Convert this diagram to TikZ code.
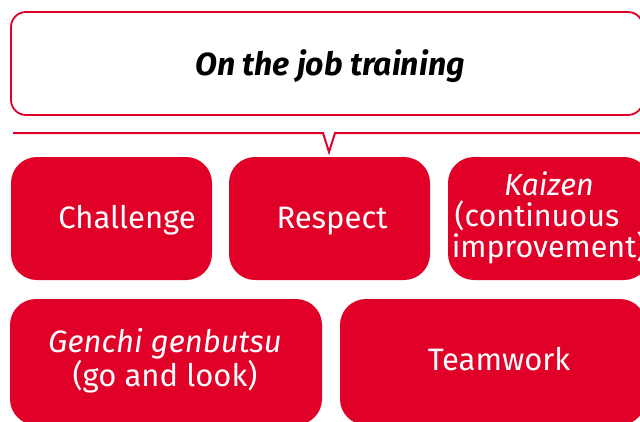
\documentclass[tikz,border=0pt]{standalone}
\usepackage{fontspec}
\setmainfont{Fira Sans}
\definecolor{tred}{RGB}{224,0,40}
\tikzset{
  redbox/.style={fill=tred, draw=none, rounded corners=26pt, inner sep=0pt},
  boxtext/.style={text=white, font=\fontsize{31}{31}\selectfont, anchor=base, align=center, inner sep=0pt},
  callout/.style={draw=tred, line width=1.8pt, rounded corners=15pt, fill=white},
}
\begin{document}
\begin{tikzpicture}[x=1pt,y=-1pt]
\useasboundingbox (0,0) rectangle (640,421);
\clip (0,0) rectangle (640,421);
% callout box
\node[callout, minimum width=632pt, minimum height=103pt, inner sep=0pt] (top) at (327,63.5) {};
\node[anchor=base, inner sep=0pt, font=\fontsize{32}{32}\selectfont\bfseries\itshape] (toptext) at (330,75) {On the job training};
% pointer line
\coordinate (l0) at (13,133);
\coordinate (l1) at (323,133);
\coordinate (tip) at (329,152);
\coordinate (l2) at (335,133);
\coordinate (l3) at (650,133);
\draw[tred, line width=2pt, line join=miter] (l0) -- (l1) -- (tip) -- (l2) -- (l3);
% row 1
\node[redbox, minimum width=201pt, minimum height=123pt] (b1) at (111.5,218.5) {};
\node[boxtext] (t1) at (127,228) {Challenge};
\node[redbox, minimum width=201pt, minimum height=123pt] (b2) at (329.5,218.5) {};
\node[boxtext] (t2) at (332,228) {Respect};
\node[redbox, minimum width=202pt, minimum height=123pt] (b3) at (549,218.5) {};
\node[boxtext, font=\fontsize{30.5}{31}\selectfont] (t3) at (549,257) {\itshape Kaizen\\(continuous\rule{24pt}{0pt}\\improvement)};
% row 2
\node[redbox, minimum width=312pt, minimum height=126pt] (b4) at (166,362) {};
\node[boxtext] (t4) at (165,386) {\itshape Genchi genbutsu\\(go and look)};
\node[redbox, minimum width=306pt, minimum height=126pt] (b5) at (493,362) {};
\node[boxtext] (t5) at (499,370) {Teamwork};
\end{tikzpicture}
\end{document}
